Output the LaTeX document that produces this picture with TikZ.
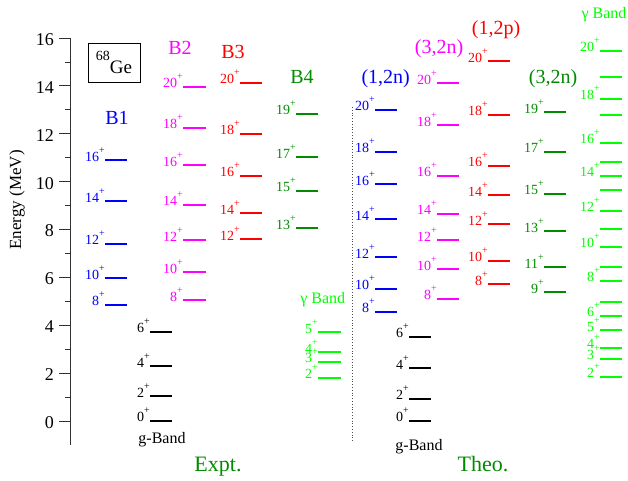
\documentclass[tikz,border=0pt]{standalone}
\usepackage{fontspec}
\setmainfont{Liberation Serif}
\usetikzlibrary{positioning}

\definecolor{dkgreen}{RGB}{0,139,0}
\definecolor{ltgreen}{RGB}{0,255,0}
\definecolor{pink}{RGB}{255,0,255}
\definecolor{pureblue}{RGB}{0,0,255}
\definecolor{purered}{RGB}{255,0,0}
\newcommand{\supplus}{\raisebox{8pt}{\fontsize{10}{10}\selectfont+}}

\begin{document}
\begin{tikzpicture}[x=1pt,y=23.93pt,
		lev/.style={line width=2pt},
		axisline/.style={line width=1pt,black!80},
		spin/.style={font=\fontsize{14}{14}\selectfont,inner sep=0pt,anchor=base east},
		bandname/.style={font=\fontsize{20}{24}\selectfont,inner sep=0pt},
		bandsmall/.style={font=\fontsize{16}{19}\selectfont,inner sep=0pt},
		setname/.style={font=\fontsize{22}{26}\selectfont,inner sep=0pt,text=dkgreen}]

	\useasboundingbox (0,-2.507) rectangle (628,17.593);

	% energy axis
	\draw[axisline] (70,-1) -- (70,16);
	\foreach \e in {0,2,...,16}{
		\draw[axisline] (59,\e) -- (70,\e);
		\node[font=\fontsize{18}{18}\selectfont,anchor=east,inner sep=0pt] (tick\e) at (54,\e-0.06) {\e};
	}
	\foreach \e in {1,3,...,15}
		\draw[axisline] (65,\e) -- (70,\e);
	\node[rotate=90,font=\fontsize{17}{17}\selectfont] (ylabel) at (17,9.24) {Energy (MeV)};

	\node[draw,line width=0.8pt,minimum width=52pt,minimum height=39pt,inner sep=0pt,
		font=\fontsize{19}{19}\selectfont] (nucleus) at (114,14.98)
		{\raisebox{13pt}{\fontsize{14}{14}\selectfont 68}Ge};

	% Expt.
	\foreach \e/\j in {10.90/16,9.18/14,7.40/12,5.97/10,4.85/8}{
		\draw[lev,pureblue] (105,\e) -- (127,\e);
		\node[spin,pureblue] (bone-\j) at (105,\e-0.04) {\j\supplus};
	}
	\foreach \e/\j in {13.97/20,12.26/18,10.68/16,9.04/14,7.55/12,6.21/10,5.05/8}{
		\draw[lev,pink] (183,\e) -- (206,\e);
		\node[spin,pink] (btwo-\j) at (183,\e-0.04) {\j\supplus};
	}
	\foreach \e/\j in {14.14/20,12.00/18,10.25/16,8.68/14,7.60/12}{
		\draw[lev,purered] (240,\e) -- (262,\e);
		\node[spin,purered] (bthree-\j) at (240,\e-0.04) {\j\supplus};
	}
	\foreach \e/\j in {12.83/19,11.02/17,9.62/15,8.05/13}{
		\draw[lev,dkgreen] (296,\e) -- (318,\e);
		\node[spin,dkgreen] (bfour-\j) at (296,\e-0.04) {\j\supplus};
	}
	\foreach \e/\j in {3.73/6,2.28/4,1.04/2,0/0}{
		\draw[lev,black] (150,\e) -- (172,\e);
		\node[spin,black] (gexp-\j) at (150,\e-0.04) {\j\supplus};
	}
	\foreach \e/\j in {3.71/5,2.87/4,2.47/3,1.80/2}{
		\draw[lev,ltgreen] (318,\e) -- (341,\e);
		\node[spin,ltgreen] (gamexp-\j) at (318,\e-0.04) {\j\supplus};
	}

	\node[bandname,pureblue] (bone) at (117,12.66) {B1};
	\node[bandname,pink] (btwo) at (180,15.59) {B2};
	\node[bandname,purered] (bthree) at (233,15.42) {B3};
	\node[bandname,dkgreen] (bfour) at (302,14.38) {B4};
	\node[bandsmall,ltgreen] (gamexp) at (322.7,5.09) {γ Band};
	\node[bandsmall] (gexp) at (162,-0.79) {g-Band};
	\node[setname] (expt) at (218,-1.92) {Expt.};

	\draw[dotted,line width=0.8pt,black!70] (352.7,13.12) -- (352.7,-0.88);

	% Theo.
	\foreach \e/\j in {13.00/20,11.25/18,9.90/16,8.43/14,6.84/12,5.52/10,4.57/8}{
		\draw[lev,pureblue] (375,\e) -- (397,\e);
		\node[spin,pureblue] (onetwon-\j) at (375,\e-0.04) {\j\supplus};
	}
	\foreach \e/\j in {14.11/20,12.36/18,10.25/16,8.66/14,7.56/12,6.34/10,5.11/8}{
		\draw[lev,pink] (437,\e) -- (459,\e);
		\node[spin,pink] (threetwon-\j) at (437,\e-0.04) {\j\supplus};
	}
	\foreach \e/\j in {15.03/20,12.80/18,10.67/16,9.44/14,8.22/12,6.70/10,5.71/8}{
		\draw[lev,purered] (488,\e) -- (510,\e);
		\node[spin,purered] (onetwop-\j) at (488,\e-0.04) {\j\supplus};
	}
	\foreach \e/\j in {12.90/19,11.25/17,9.49/15,7.93/13,6.42/11,5.38/9}{
		\draw[lev,dkgreen] (544,\e) -- (566,\e);
		\node[spin,dkgreen] (oddtwon-\j) at (544,\e-0.04) {\j\supplus};
	}
	\foreach \e/\j in {3.52/6,2.20/4,0.92/2,0/0}{
		\draw[lev,black] (409,\e) -- (431,\e);
		\node[spin,black] (gth-\j) at (409,\e-0.04) {\j\supplus};
	}
	\foreach \e/\j in {15.47/20,13.46/18,11.63/16,10.24/14,8.78/12,7.27/10,5.85/8,4.39/6,3.80/5,3.07/4,2.59/3,1.85/2}{
		\draw[lev,ltgreen] (600,\e) -- (622,\e);
		\node[spin,ltgreen] (gamth-\j) at (600,\e-0.04) {\j\supplus};
	}
	\foreach \e in {14.39,12.79,10.81,9.64,8.01,6.45,4.99}
		\draw[lev,ltgreen] (600,\e) -- (622,\e);

	\node[bandname,pureblue] (onetwon) at (385.7,14.29) {(1,2n)};
	\node[bandname,pink] (threetwon) at (439,15.57) {(3,2n)};
	\node[bandname,purered] (onetwop) at (496,16.37) {(1,2p)};
	\node[bandname,dkgreen] (oddtwon) at (553,14.29) {(3,2n)};
	\node[bandsmall,ltgreen] (gamth) at (604,16.97) {γ Band};
	\node[bandsmall] (gth) at (419,-1.07) {g-Band};
	\node[setname] (theo) at (483,-1.80) {Theo.};
\end{tikzpicture}
\end{document}
